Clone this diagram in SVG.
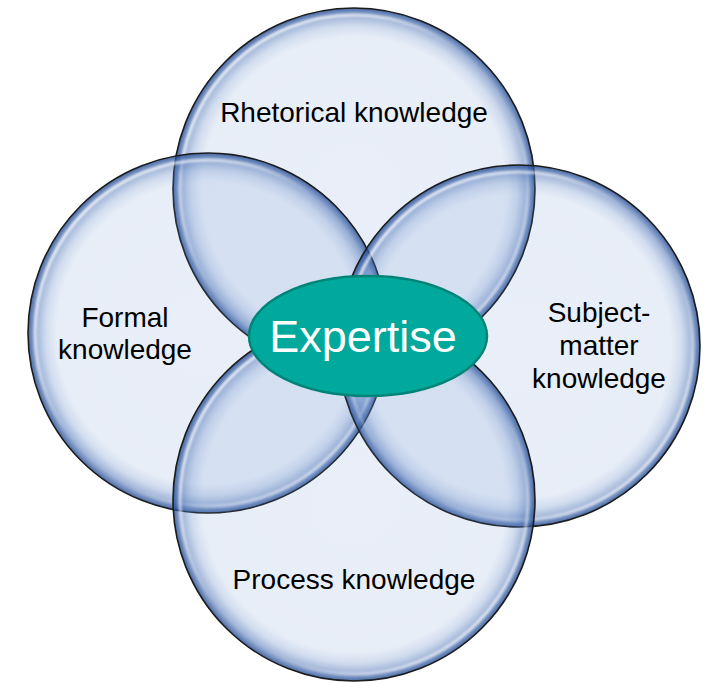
<svg xmlns="http://www.w3.org/2000/svg" width="706" height="683" viewBox="0 0 706 683">
  <defs>
    <radialGradient id="bubble" cx="0.5" cy="0.5" r="0.5">
      <stop offset="0" stop-color="rgb(100,140,205)" stop-opacity="0.14"/>
      <stop offset="0.84" stop-color="rgb(100,140,205)" stop-opacity="0.15"/>
      <stop offset="0.9" stop-color="rgb(90,130,195)" stop-opacity="0.28"/>
      <stop offset="0.955" stop-color="rgb(65,105,175)" stop-opacity="0.5"/>
      <stop offset="1" stop-color="rgb(40,80,150)" stop-opacity="0.85"/>
    </radialGradient>
    <linearGradient id="glint" x1="0" y1="0" x2="1" y2="1">
      <stop offset="0" stop-color="#ffffff" stop-opacity="1"/>
      <stop offset="0.3" stop-color="#ffffff" stop-opacity="0.55"/>
      <stop offset="0.45" stop-color="#ffffff" stop-opacity="0"/>
      <stop offset="0.6" stop-color="#ffffff" stop-opacity="0"/>
      <stop offset="0.8" stop-color="#ffffff" stop-opacity="0.55"/>
      <stop offset="1" stop-color="#ffffff" stop-opacity="1"/>
    </linearGradient>
    <filter id="soft" x="-5%" y="-5%" width="110%" height="110%">
      <feGaussianBlur stdDeviation="1"/>
    </filter>
  </defs>
  <style>
    .bubble { fill: url(#bubble); stroke: #1c1c1c; stroke-width: 1.6; }
    .glint { fill: none; stroke: url(#glint); stroke-width: 3; filter: url(#soft); }
    .label { font-family: "Liberation Sans", Arial, sans-serif; font-size: 28px; fill: #000000; text-anchor: middle; }
    .core { fill: #00A99B; stroke: #008477; stroke-width: 2.5; }
    .coretext { font-family: "Liberation Sans", Arial, sans-serif; font-size: 45px; fill: #ffffff; text-anchor: middle; }
  </style>

  <g id="connectors"/>

  <g id="rhetorical">
    <circle class="bubble" cx="354" cy="189" r="181"/>
    <circle class="glint" cx="354" cy="189" r="174"/>
    <text class="label" x="354" y="122">Rhetorical knowledge</text>
  </g>

  <g id="formal">
    <circle class="bubble" cx="208" cy="333" r="180"/>
    <circle class="glint" cx="208" cy="333" r="173"/>
    <text class="label" x="125" y="327">Formal</text>
    <text class="label" x="125" y="359">knowledge</text>
  </g>

  <g id="subject">
    <circle class="bubble" cx="519" cy="346" r="181"/>
    <circle class="glint" cx="519" cy="346" r="174"/>
    <text class="label" x="599" y="322">Subject-</text>
    <text class="label" x="599" y="355">matter</text>
    <text class="label" x="599" y="388">knowledge</text>
  </g>

  <g id="process">
    <circle class="bubble" cx="354" cy="500" r="181"/>
    <circle class="glint" cx="354" cy="500" r="174"/>
    <text class="label" x="354" y="589">Process knowledge</text>
  </g>

  <g id="expertise">
    <ellipse class="core" cx="368" cy="336" rx="119" ry="60"/>
    <text class="coretext" x="363" y="352">Expertise</text>
  </g>
</svg>
